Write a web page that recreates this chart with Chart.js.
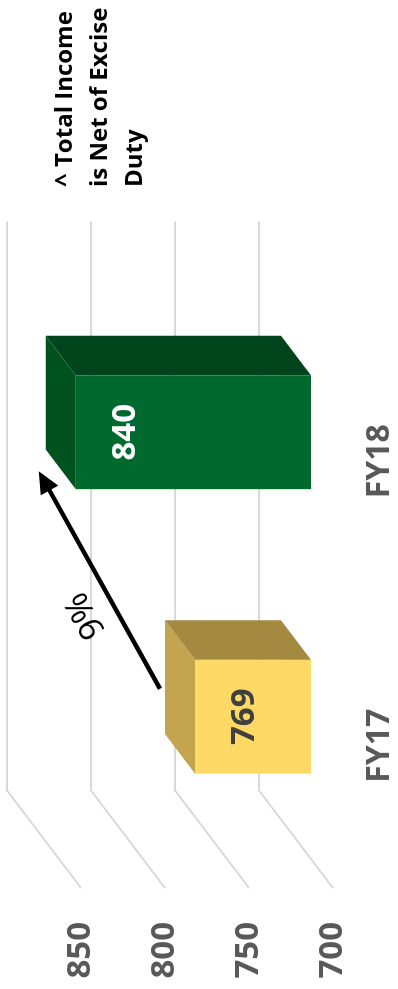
<!DOCTYPE html>
<html>
<head>
<meta charset="utf-8">
<script src="https://cdn.jsdelivr.net/npm/chart.js@4.4.1/dist/chart.umd.min.js"></script>
<style>
  html, body { margin: 0; padding: 0; background: #fff; overflow: hidden; }
  #wrap {
    position: absolute; left: 0; top: 0;
    width: 989px; height: 398px;
    transform-origin: 0 0;
    transform: translate(0, 989px) rotate(-90deg);
  }
</style>
</head>
<body>
<div id="wrap"><canvas id="incomeChart" width="989" height="398"></canvas></div>
<script>
// data
const categories = ['FY17', 'FY18'];
const totalIncome = [769, 840];
const yTicks = [700, 750, 800, 850];
const growthText = '9%';
const noteLines = ['^ Total Income', 'is Net of Excise', 'Duty'];

const frontColors = ['#FFD966', '#006A2E'];
const topColors = ['#C3A54F', '#00521F'];
const sideColors = ['#A48A40', '#00441C'];
const valueColors = ['#404040', '#FFFFFF'];

// oblique depth: x shift per px of vertical shift
const SLANT = 1.32;
const BAR_DEPTH = 30;   // depth of each box
const WALL_BACK = 52;   // bar front -> back wall
const WALL_FRONT = 22;  // bar front -> front edge (labels)

const fontFamily = "'Open Sans', sans-serif";
Chart.defaults.font.family = fontFamily;

// back wall gridlines + side wall lines
const wallPlugin = {
  id: 'wall',
  beforeDatasetsDraw(chart) {
    const ctx = chart.ctx;
    const area = chart.chartArea;
    const y = chart.scales.y;
    ctx.save();
    ctx.strokeStyle = '#D9D9D9';
    ctx.lineWidth = 2;
    yTicks.forEach(v => {
      const py = y.getPixelForValue(v);
      const bx = WALL_BACK * SLANT;
      ctx.beginPath();
      ctx.moveTo(area.right + bx, py - WALL_BACK);
      ctx.lineTo(area.left + bx, py - WALL_BACK);
      ctx.lineTo(area.left - WALL_FRONT * SLANT, py + WALL_FRONT);
      ctx.stroke();
    });

    // top and side faces of the boxes
    const meta = chart.getDatasetMeta(0);
    const dx = BAR_DEPTH * SLANT, dy = -BAR_DEPTH;
    const bottom = y.getPixelForValue(y.min);
    meta.data.forEach((bar, i) => {
      const x0 = bar.x - bar.width / 2;
      const x1 = bar.x + bar.width / 2;
      const top = bar.y;
      ctx.fillStyle = topColors[i];
      ctx.beginPath();
      ctx.moveTo(x0, top);
      ctx.lineTo(x1, top);
      ctx.lineTo(x1 + dx, top + dy);
      ctx.lineTo(x0 + dx, top + dy);
      ctx.closePath();
      ctx.fill();
      ctx.fillStyle = sideColors[i];
      ctx.beginPath();
      ctx.moveTo(x1, top);
      ctx.lineTo(x1 + dx, top + dy);
      ctx.lineTo(x1 + dx, bottom + dy);
      ctx.lineTo(x1, bottom);
      ctx.closePath();
      ctx.fill();
    });
    ctx.restore();
  }
};

const annotationPlugin = {
  id: 'annotations',
  afterDatasetsDraw(chart) {
    const ctx = chart.ctx;
    const meta = chart.getDatasetMeta(0);
    ctx.save();

    // value labels
    ctx.font = 'bold 33px ' + fontFamily;
    ctx.textAlign = 'center';
    ctx.textBaseline = 'middle';
    meta.data.forEach((bar, i) => {
      ctx.fillStyle = valueColors[i];
      ctx.fillText(totalIncome[i], bar.x, bar.y + 50);
    });

    // growth arrow
    const a = meta.data[0], b = meta.data[1];
    const tx = a.x + 28, ty = a.y - 35;
    const hx = b.x - 39, hy = b.y - 37;
    const ang = Math.atan2(hy - ty, hx - tx);
    const head = 22, half = 10;
    ctx.strokeStyle = '#000';
    ctx.fillStyle = '#000';
    ctx.lineWidth = 4.5;
    ctx.beginPath();
    ctx.moveTo(tx, ty);
    ctx.lineTo(hx - Math.cos(ang) * head * 0.8, hy - Math.sin(ang) * head * 0.8);
    ctx.stroke();
    ctx.beginPath();
    ctx.moveTo(hx, hy);
    ctx.lineTo(hx - head * Math.cos(ang) + half * Math.sin(ang), hy - head * Math.sin(ang) - half * Math.cos(ang));
    ctx.lineTo(hx - head * Math.cos(ang) - half * Math.sin(ang), hy - head * Math.sin(ang) + half * Math.cos(ang));
    ctx.closePath();
    ctx.fill();

    // 9% along the arrow
    const ux = Math.cos(ang), uy = Math.sin(ang);
    const px = uy, py = -ux; // perpendicular, above the arrow
    ctx.translate(tx + ux * 100 + px * 29, ty + uy * 100 + py * 29);
    ctx.rotate(ang);
    ctx.font = '34px ' + fontFamily;
    ctx.fillStyle = '#000';
    ctx.fillText(growthText, 0, 0);
    ctx.restore();

    // note at top right
    ctx.save();
    ctx.font = 'bold 24px ' + fontFamily;
    ctx.fillStyle = '#000';
    ctx.textAlign = 'left';
    ctx.textBaseline = 'alphabetic';
    noteLines.forEach((line, i) => {
      ctx.fillText(line, chart.chartArea.right + 103, 72 + i * 35);
    });
    ctx.restore();
  }
};

const ctx = document.getElementById('incomeChart').getContext('2d');
new Chart(ctx, {
  type: 'bar',
  data: {
    labels: categories,
    datasets: [{
      data: totalIncome,
      backgroundColor: frontColors,
      borderWidth: 0,
      barPercentage: 0.4,
      categoryPercentage: 1
    }]
  },
  options: {
    responsive: false,
    animation: false,
    layout: { padding: { top: 59, right: 290, left: 0, bottom: 0 } },
    plugins: { legend: { display: false }, tooltip: { enabled: false } },
    scales: {
      x: {
        grid: { display: false, drawTicks: false },
        border: { display: false },
        ticks: {
          color: '#595959',
          font: { size: 32, weight: 'bold' },
          labelOffset: -WALL_FRONT * SLANT,
          padding: 50,
          maxRotation: 0
        },
        afterFit: s => { s.height = 87; s.paddingLeft = 0; s.paddingRight = 0; }
      },
      y: {
        min: 700,
        max: 850,
        grid: { display: false, drawTicks: false },
        border: { display: false },
        afterBuildTicks: s => { s.ticks = yTicks.map(v => ({ value: v })); },
        ticks: {
          color: '#595959',
          font: { size: 33, weight: 'bold' },
          labelOffset: WALL_FRONT,
          padding: 63
        },
        afterFit: s => { s.width = 130; s.paddingTop = 0; s.paddingBottom = 0; }
      }
    }
  },
  plugins: [wallPlugin, annotationPlugin]
});
</script>
</body>
</html>
